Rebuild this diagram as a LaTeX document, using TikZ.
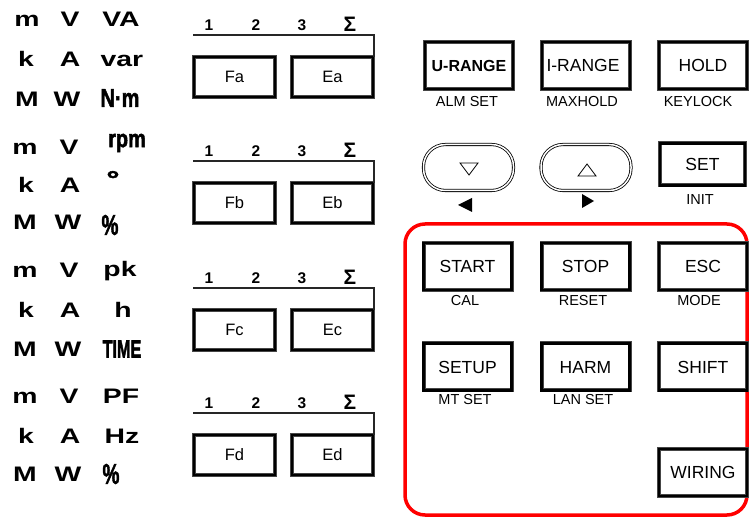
\documentclass[tikz,border=0pt]{standalone}
\usepackage{fontspec}
\setmainfont{Liberation Sans}
\newfontfamily\heavyfont{Liberation Sans}[BoldFeatures={FakeBold=2.2}]
\usepackage{graphicx}
\newcommand{\uw}[1]{\scalebox{1.35}[1]{#1}}
\newcommand{\usq}[3]{\scalebox{#1}[#2]{#3}}
\begin{document}
\begin{tikzpicture}[x=1pt,y=-1pt,
  unit/.style={inner sep=0pt, anchor=base, font=\fontsize{21}{24}\selectfont\bfseries},
  uspec/.style={inner sep=0pt, anchor=center, font=\fontsize{19}{22}\selectfont\heavyfont\bfseries},
  glab/.style={inner sep=0pt, font=\fontsize{15.5}{18}\selectfont\bfseries},
  keybase/.style={draw=gray!55!black, line width=0.7pt, double=black, double distance=2.6pt,
    fill=white, inner sep=0pt, font=\fontsize{17.5}{20}\selectfont},
  fkey/.style={keybase, minimum width=81pt, minimum height=40pt, font=\fontsize{16.5}{19}\selectfont},
  bkey/.style={keybase, minimum width=88pt, minimum height=47pt},
  setkey/.style={keybase, minimum width=85pt, minimum height=42pt},
  ovalkey/.style={draw=black, line width=0.8pt, double=white, double distance=1.5pt,
    fill=white, rounded corners=22pt, inner sep=0pt, minimum width=90pt, minimum height=46pt},
  sub/.style={inner sep=0pt, font=\fontsize{14.5}{17}\selectfont},
  bracket/.style={draw=black!85, line width=1.4pt},
  arrowtri/.style={fill=black},
  opentri/.style={draw=black, line width=0.8pt, line join=miter}
]
\useasboundingbox (0,0) rectangle (750,518);

% ---- unit column ----
% group 1
\node[unit] (u1m) at (27,27) {\uw{m}};
\node[unit] (u1V) at (70,27) {\uw{V}};
\node[unit] (u1VA) at (121,27) {\uw{VA}};
\node[unit] (u1k) at (26,67) {\uw{k}};
\node[unit] (u1A) at (70,67) {\uw{A}};
\node[unit] (u1var) at (122,67) {\uw{var}};
\node[unit] (u1M) at (27,107) {\uw{M}};
\node[unit] (u1W) at (67,107) {\uw{W}};
\node[uspec] (u1Nm) at (120,98) {\usq{1.05}{1.35}{N·m}};
% group 2
\node[unit] (u2m) at (25,155) {\uw{m}};
\node[unit] (u2V) at (69,155) {\uw{V}};
\node[uspec] (u2rpm) at (127,143) {\usq{1.05}{1.3}{rpm}};
\node[unit] (u2k) at (26,193) {\uw{k}};
\node[unit] (u2A) at (70,193) {\uw{A}};
\node[uspec] (u2deg) at (113,179) {\usq{1.7}{1.2}{°}};
\node[unit] (u2M) at (25,230) {\uw{M}};
\node[unit] (u2W) at (68,230) {\uw{W}};
\node[uspec] (u2pc) at (110,225) {\usq{1.0}{1.5}{\%}};
% group 3
\node[unit] (u3m) at (25,278) {\uw{m}};
\node[unit] (u3V) at (69,278) {\uw{V}};
\node[unit] (u3pk) at (120,277) {\uw{pk}};
\node[unit] (u3k) at (26,318) {\uw{k}};
\node[unit] (u3A) at (70,318) {\uw{A}};
\node[unit] (u3h) at (123,318) {\uw{h}};
\node[unit] (u3M) at (25,357) {\uw{M}};
\node[unit] (u3W) at (68,357) {\uw{W}};
\node[uspec] (u3time) at (122,349) {\usq{0.85}{1.3}{TIME}};
% group 4
\node[unit] (u4m) at (25,404) {\uw{m}};
\node[unit] (u4V) at (69,404) {\uw{V}};
\node[unit] (u4PF) at (121,404) {\uw{PF}};
\node[unit] (u4k) at (26,444) {\uw{k}};
\node[unit] (u4A) at (70,444) {\uw{A}};
\node[unit] (u4Hz) at (122,444) {\uw{Hz}};
\node[unit] (u4M) at (25,482) {\uw{M}};
\node[unit] (u4W) at (68,482) {\uw{W}};
\node[uspec] (u4pc) at (111,474) {\usq{1.0}{1.5}{\%}};

% ---- F / E groups ----
\foreach \L/\s in {25/a,151/b,278/c,403/d}{
  \node[glab] (g\s1) at (209,\L) {1};
  \node[glab] (g\s2) at (256,\L) {2};
  \node[glab] (g\s3) at (302,\L) {3};
  \node[glab] (g\s4) at (350,\L-0.5) {\scalebox{1.35}{Σ}};
  \node[fkey] (F\s) at (234.5,\L+52) {F\s};
  \node[fkey] (E\s) at (332.5,\L+52) {E\s};
  \coordinate (br\s) at (193,\L+10);
  \draw[bracket] (br\s) -| ([xshift=0.5pt]E\s.north east);
}

% ---- top right keys ----
\node[bkey, font=\fontsize{16}{19}\selectfont\bfseries] (urange) at (469,65.5) {U-RANGE};
\node[bkey] (irange) at (586,65.5) {\hspace*{-6pt}I-RANGE};
\node[bkey] (hold) at (703,65.5) {HOLD};
\node[sub] (alm) at (467,102) {ALM SET};
\node[sub] (maxhold) at (582,102) {MAXHOLD};
\node[sub] (keylock) at (698,102) {KEYLOCK};

\node[ovalkey] (down) at (468.5,167.5) {};
\node[ovalkey] (up) at (586,167.5) {};
\draw[opentri] (460,163) -- (478,163) -- (469,175) -- cycle;
\draw[opentri] (578,176) -- (596,176) -- (587,164) -- cycle;
\fill[arrowtri] (458,205) -- (472,198) -- (472,212) -- cycle;
\fill[arrowtri] (594,201) -- (582,194) -- (582,208) -- cycle;
\node[setkey] (set) at (702.5,164.5) {SET};
\node[sub] (init) at (700,200) {INIT};

% ---- red panel ----
\draw[red, line width=3.5pt, rounded corners=20pt] (405,224) rectangle (747,515);

\node[bkey] (start) at (467.5,266.5) {START};
\node[bkey] (stop) at (585.5,266.5) {STOP};
\node[bkey] (esc) at (703,266.5) {ESC};
\node[sub] (cal) at (465,301) {CAL};
\node[sub] (reset) at (583,301) {RESET};
\node[sub] (mode) at (699,301) {MODE};

\node[bkey] (setup) at (467.5,367) {SETUP};
\node[bkey] (harm) at (585.5,367) {HARM};
\node[bkey] (shift) at (703,367) {SHIFT};
\node[sub] (mtset) at (465,400) {MT SET};
\node[sub] (lanset) at (583,400) {LAN SET};

\node[bkey] (wiring) at (703,472.5) {WIRING};
\end{tikzpicture}
\end{document}
